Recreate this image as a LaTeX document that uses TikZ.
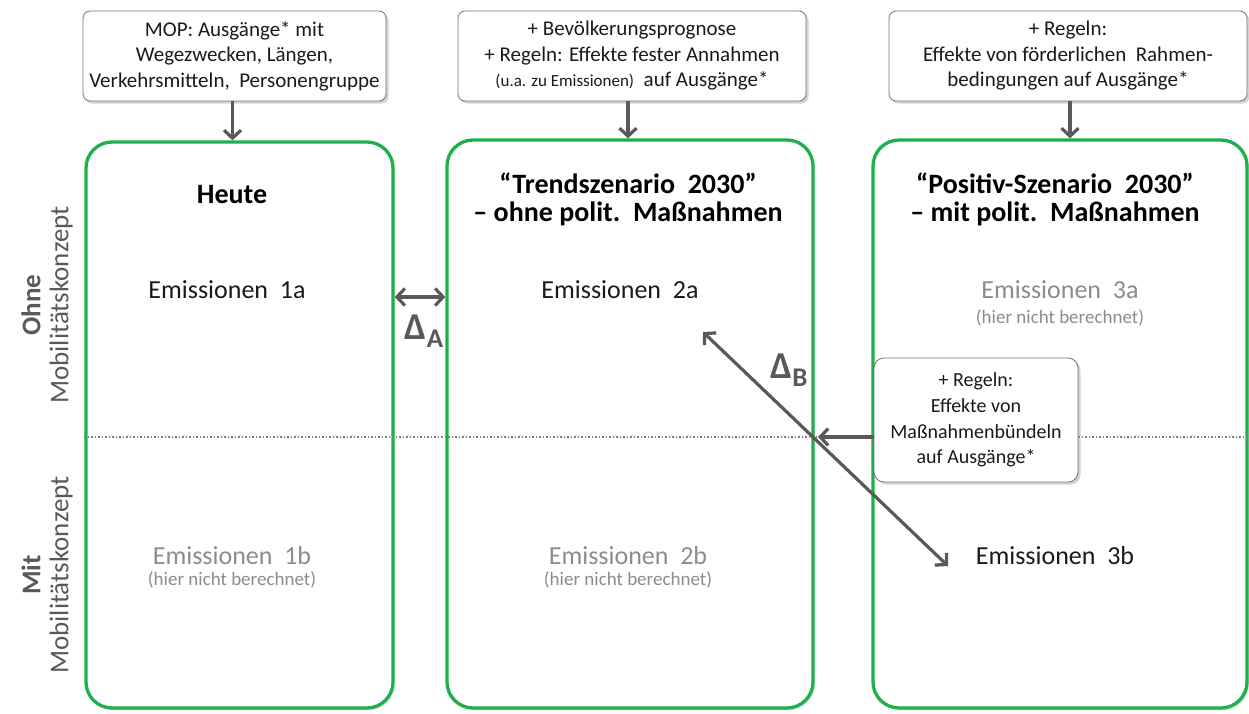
\documentclass[tikz,border=0pt]{standalone}
\usepackage{fontspec}
\setmainfont{Carlito}
\usetikzlibrary{arrows.meta,shadows,calc}
\definecolor{frame}{HTML}{1DB04B}
\definecolor{arrowgray}{HTML}{595959}
\definecolor{softgray}{HTML}{8C8C8C}
\definecolor{textdark}{HTML}{1A1A1A}
\tikzset{
  fs/.code args={#1/#2}{\fontsize{#1}{#2}\selectfont},
  tip/.tip={Straight Barb[length=8pt,width=17pt,line width=3.2pt]},
  panel/.style={draw=frame, line width=3.3pt, rounded corners=26pt, fill=white,
    drop shadow={shadow xshift=2pt, shadow yshift=-2pt, opacity=0.25}},
  infobox/.style={draw=black!55, line width=0.8pt, rounded corners=7pt, fill=white,
    align=center, text=textdark, fs=21/25.5, inner sep=2pt,
    drop shadow={shadow xshift=2.5pt, shadow yshift=-2.5pt, opacity=0.35}},
  feed/.style={draw=arrowgray, line width=3.2pt, -tip},
  both/.style={draw=arrowgray, line width=3.2pt, tip-tip},
  heading/.style={font=\bfseries, fs=28/28, align=center, text=black},
  emis/.style={fs=26/30, text=textdark},
  emisoff/.style={fs=26/30, text=softgray},
  note/.style={fs=19/22, text=softgray},
  rowlab/.style={rotate=90, fs=27/28, text=arrowgray},
  delta/.style={font=\bfseries, fs=38/40, text=arrowgray},
}
\begin{document}
\begin{tikzpicture}[x=1pt, y=-1pt]
\useasboundingbox (0,0) rectangle (1249,713);

% scenario panels
\node[panel, minimum width=307pt, minimum height=566pt] (g1) at (239.5,425) {};
\node[panel, minimum width=366pt, minimum height=568pt] (g2) at (630,424) {};
\node[panel, minimum width=374pt, minimum height=568pt] (g3) at (1060,424) {};

% dividing line between the two rows
\draw[dotted, line width=1.5pt, black!50] (g1.west |- 0,437) -- (1249,437);

% input boxes on top
\node[infobox, minimum width=303pt, minimum height=90pt] (ta) at (234.5,56)
  {MOP: Ausgänge* mit\\Wegezwecken, Längen,\\Verkehrsmitteln,\ \ Personengruppe};
\node[infobox, minimum width=348pt, minimum height=90pt] (tb) at (632,56)
  {+ Bevölkerungsprognose\\+ Regeln: Effekte fester Annahmen\\{\fontsize{17}{20}\selectfont(u.a. zu Emissionen)}\ \ auf Ausgänge*};
\node[infobox, minimum width=358pt, minimum height=90pt] (tc) at (1068,56)
  {+ Regeln:\\Effekte von förderlichen\ \ Rahmen-\\bedingungen auf Ausgänge*};

\draw[feed] ([xshift=-2pt]ta.south) -- ([xshift=-2pt]ta.south |- g1.north);
\draw[feed] ([xshift=-4pt]tb.south) -- ([xshift=-4pt]tb.south |- g2.north);
\draw[feed] ([xshift=2pt]tc.south) -- ([xshift=2pt]tc.south |- g3.north);

% panel headings
\node[heading] (h1) at (232,195) {Heute};
\node[heading] (h2) at (628,199) {“Trendszenario\ \ 2030”\\– ohne polit.\ \ Maßnahmen};
\node[heading] (h3) at (1055,199) {“Positiv-Szenario\ \ 2030”\\– mit polit.\ \ Maßnahmen};

% emission cells
\node[emis] (e1a) at (227,290) {Emissionen\ \ 1a};
\node[emis] (e2a) at (620,290) {Emissionen\ \ 2a};
\node[emisoff] (e3a) at (1060,290) {Emissionen\ \ 3a};
\node[note] (n3a) at (1060,318) {(hier nicht berechnet)};

\node[emisoff] (e1b) at (232,556) {Emissionen\ \ 1b};
\node[note] (n1b) at (232,580) {(hier nicht berechnet)};
\node[emisoff] (e2b) at (628,556) {Emissionen\ \ 2b};
\node[note] (n2b) at (628,580) {(hier nicht berechnet)};
\node[emis] (e3b) at (1055,556) {Emissionen\ \ 3b};

% row labels
\node[rowlab, align=center] (rowa) at (47,305) {\textbf{Ohne}\\Mobilitätskonzept};
\node[rowlab, align=center] (rowb) at (47,575) {\textbf{Mit}\\Mobilitätskonzept};

% difference A
\draw[both] (g1.east |- 0,297) -- (g2.west |- 0,297);
\node[delta] (da) at (424,331) {Δ\raisebox{-0.45ex}{\fontsize{27}{28}\selectfont A}};

% difference B
\coordinate (b1) at (703,332);
\coordinate (b2) at (948,566);
\draw[both] (b1) -- (b2);
\node[delta] (db) at (789,370) {Δ\raisebox{-0.45ex}{\fontsize{27}{28}\selectfont B}};

% measures box feeding the lower row
\node[infobox, minimum width=204pt, minimum height=124pt, rounded corners=10pt, fs=20/25.7] (mb) at (976,420)
  {+ Regeln:\\Effekte von\\Maßnahmenbündeln\\auf Ausgänge*};
\coordinate (mt) at (818,437);
\draw[feed] (mb.west |- mt) -- (mt);
\end{tikzpicture}
\end{document}
